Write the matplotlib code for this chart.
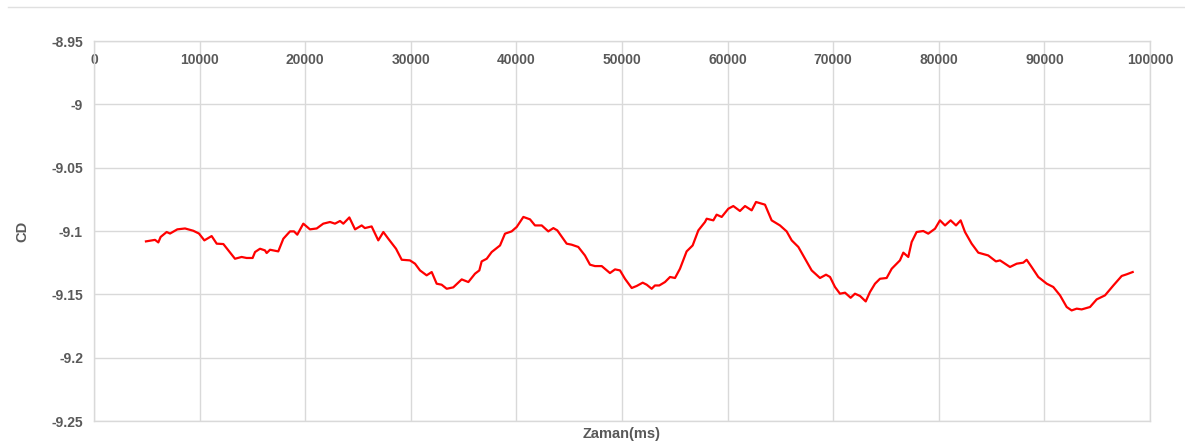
import matplotlib
matplotlib.use('Agg')
import matplotlib.pyplot as plt
from matplotlib.ticker import FuncFormatter, MultipleLocator
from matplotlib.lines import Line2D

# values
zaman_ms = [
    4920, 5780, 6090, 6310, 6880, 7200, 7890, 8620, 9400, 9940,
    10450, 11140, 11620, 12250, 12720, 13350, 13980, 14450, 15020, 15250,
    15720, 16190, 16350, 16670, 17450, 17930, 18560, 18940, 19250, 19820,
    20450, 21090, 21710, 22350, 22820, 23300, 23610, 24180, 24720, 25350,
    25650, 26290, 26920, 27400, 27870, 28600, 29140, 29920, 30400, 30870,
    31500, 31980, 32450, 32920, 33400, 34020, 34820, 35450, 36080, 36490,
    36710, 37190, 37660, 38450, 38920, 39550, 40030, 40660, 41290, 41760,
    42400, 43020, 43500, 43870, 44760, 45230, 45860, 46490, 46970, 47440,
    48080, 48860, 49340, 49810, 50280, 50920, 51390, 51960, 52340, 52810,
    53120, 53530, 54070, 54550, 55020, 55490, 56120, 56690, 57230, 57860,
    58020, 58650, 58960, 59440, 60070, 60540, 61170, 61650, 62280, 62690,
    63540, 64170, 64960, 65590, 66070, 66700, 67330, 67960, 68750, 69320,
    69700, 70170, 70640, 71120, 71650, 72060, 72540, 73080, 73480, 73960,
    74430, 75060, 75540, 76010, 76320, 76640, 77110, 77430, 77900, 78530,
    79000, 79640, 80110, 80590, 81120, 81630, 82070, 82480, 83110, 83740,
    84680, 85410, 85800, 86740, 87380, 88000, 88320, 88790, 89420, 90220,
    90840, 91480, 92110, 92580, 93060, 93530, 94320, 94950, 95740, 96530,
    97320, 97790, 98360,
]
cd = [
    -9.1082, -9.1070, -9.1090, -9.1047, -9.1008, -9.1020, -9.0987, -9.0980, -9.0998, -9.1020,
    -9.1074, -9.1040, -9.1100, -9.1103, -9.1153, -9.1219, -9.1205, -9.1213, -9.1213, -9.1166,
    -9.1140, -9.1153, -9.1174, -9.1148, -9.1161, -9.1061, -9.1003, -9.1003, -9.1029, -9.0942,
    -9.0987, -9.0980, -9.0942, -9.0929, -9.0942, -9.0921, -9.0942, -9.0893, -9.0987, -9.0956,
    -9.0977, -9.0964, -9.1074, -9.1008, -9.1061, -9.1140, -9.1227, -9.1232, -9.1258, -9.1311,
    -9.1350, -9.1324, -9.1416, -9.1424, -9.1456, -9.1445, -9.1382, -9.1403, -9.1337, -9.1311,
    -9.1240, -9.1219, -9.1166, -9.1114, -9.1021, -9.1003, -9.0968, -9.0889, -9.0908, -9.0956,
    -9.0956, -9.1003, -9.0977, -9.0995, -9.1100, -9.1108, -9.1126, -9.1193, -9.1266, -9.1277,
    -9.1277, -9.1332, -9.1303, -9.1311, -9.1377, -9.1450, -9.1434, -9.1408, -9.1424, -9.1456,
    -9.1430, -9.1430, -9.1403, -9.1363, -9.1371, -9.1298, -9.1161, -9.1114, -9.0995, -9.0929,
    -9.0903, -9.0916, -9.0871, -9.0889, -9.0824, -9.0803, -9.0842, -9.0803, -9.0837, -9.0771,
    -9.0792, -9.0916, -9.0956, -9.1003, -9.1074, -9.1126, -9.1219, -9.1311, -9.1371, -9.1345,
    -9.1363, -9.1442, -9.1495, -9.1487, -9.1527, -9.1495, -9.1513, -9.1556, -9.1482, -9.1416,
    -9.1377, -9.1371, -9.1298, -9.1258, -9.1232, -9.1171, -9.1205, -9.1087, -9.1008, -9.1000,
    -9.1021, -9.0982, -9.0916, -9.0956, -9.0916, -9.0956, -9.0916, -9.1008, -9.1100, -9.1171,
    -9.1193, -9.1240, -9.1232, -9.1284, -9.1258, -9.1250, -9.1227, -9.1284, -9.1363, -9.1416,
    -9.1442, -9.1508, -9.1600, -9.1627, -9.1613, -9.1619, -9.1600, -9.1540, -9.1508, -9.1430,
    -9.1355, -9.1342, -9.1324,
]

grid_c = '#d9d9d9'
text_c = '#595959'
plt.rcParams['font.family'] = ['Liberation Sans', 'DejaVu Sans']

fig = plt.figure(figsize=(11.85, 4.48), dpi=100)
ax = fig.add_axes([94 / 1185, 27 / 448, 1056 / 1185, 380 / 448])

ax.plot(zaman_ms, cd, color='#ff0000', lw=1.6)

ax.set_xlim(0, 100000)
ax.set_ylim(-9.25, -8.95)
ax.xaxis.set_major_locator(MultipleLocator(10000))
ax.yaxis.set_major_locator(MultipleLocator(0.05))
ax.xaxis.set_major_formatter(FuncFormatter(lambda v, p: f'{v:.0f}'))
ax.yaxis.set_major_formatter(FuncFormatter(lambda v, p: f'{v:g}'))

ax.grid(True, color=grid_c, lw=1)
ax.set_axisbelow(True)
for s in ax.spines.values():
    s.set_color(grid_c)
    s.set_linewidth(1)

ax.xaxis.set_ticks_position('top')
ax.tick_params(axis='x', length=0, pad=-19, labelsize=10, labelcolor=text_c)
ax.tick_params(axis='y', length=0, pad=8, labelsize=10, labelcolor=text_c)
for lab in ax.get_xticklabels() + ax.get_yticklabels():
    lab.set_fontweight('bold')

ax.set_xlabel('Zaman(ms)', fontsize=10.5, fontweight='bold', color=text_c)
ax.xaxis.set_label_position('bottom')
ax.xaxis.set_label_coords(0.5, -0.016)
ax.set_ylabel('CD', fontsize=10.5, fontweight='bold', color=text_c)
ax.yaxis.set_label_coords(-0.061, 0.5)

# thin frame line at top of the chart area
fig.add_artist(Line2D([8 / 1185, 1.0], [1 - 7 / 448, 1 - 7 / 448],
                      transform=fig.transFigure, color='#e0e0e0', lw=1))

fig.savefig('out.png', dpi=100)
